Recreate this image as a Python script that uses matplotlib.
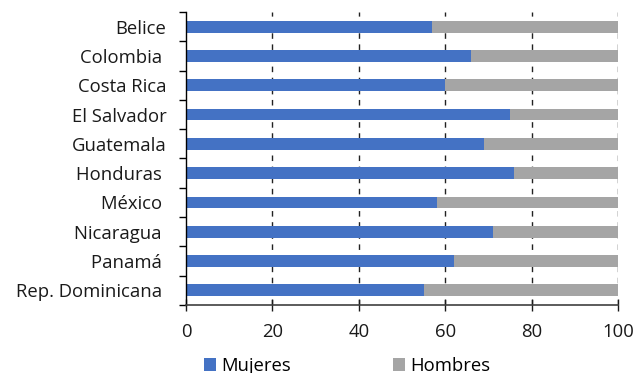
import numpy as np
import matplotlib.pyplot as plt
from matplotlib.ticker import FixedLocator

plt.rcParams['font.family'] = ['Open Sans', 'DejaVu Sans']

paises = ["Belice", "Colombia ", "Costa Rica", "El Salvador", "Guatemala",
          "Honduras ", "México ", "Nicaragua ", "Panamá ", "Rep. Dominicana "]
mujeres = [57, 66, 60, 75, 69, 76, 58, 71, 62, 55]
hombres = [100 - m for m in mujeres]

fig = plt.figure(figsize=(6.37, 3.73), dpi=100)
ax = fig.add_axes([186 / 637, 1 - 305 / 373, 432 / 637, 293 / 373])

y = np.arange(len(paises))
ax.barh(y, mujeres, height=0.4, color="#4472C4", label="Mujeres")
ax.barh(y, hombres, left=mujeres, height=0.4, color="#A5A5A5", label="Hombres")

ax.set_xlim(0, 100)
ax.set_ylim(len(paises) - 0.5, -0.5)
ax.set_xticks([0, 20, 40, 60, 80, 100])
ax.set_yticks(y)
ax.set_yticklabels(paises)
ax.yaxis.set_minor_locator(FixedLocator(np.arange(-0.5, len(paises), 1)))
ax.tick_params(axis="y", which="major", length=0, pad=14, labelsize=13.3, colors="#1a1a1a")
ax.tick_params(axis="y", which="minor", length=5, width=1, direction="out")
ax.tick_params(axis="x", length=8, width=1, direction="inout", pad=9, labelsize=13.3,
               colors="#1a1a1a")

for v in [20, 40, 60, 80, 100]:
    ax.axvline(v, color="#222222", linestyle=(0, (4, 4)), linewidth=1, zorder=0)

for s in ["top", "right"]:
    ax.spines[s].set_visible(False)
ax.spines["left"].set_linewidth(1)
ax.spines["bottom"].set_linewidth(1.2)
ax.spines["bottom"].set_color("#404040")

fig.legend(loc="center", bbox_to_anchor=(0.545, 0.02), ncol=2, frameon=False,
           fontsize=13.3, handlelength=0.68, handleheight=0.7, handletextpad=0.27,
           columnspacing=5.5, borderpad=0)

fig.savefig("out.png", dpi=100)
